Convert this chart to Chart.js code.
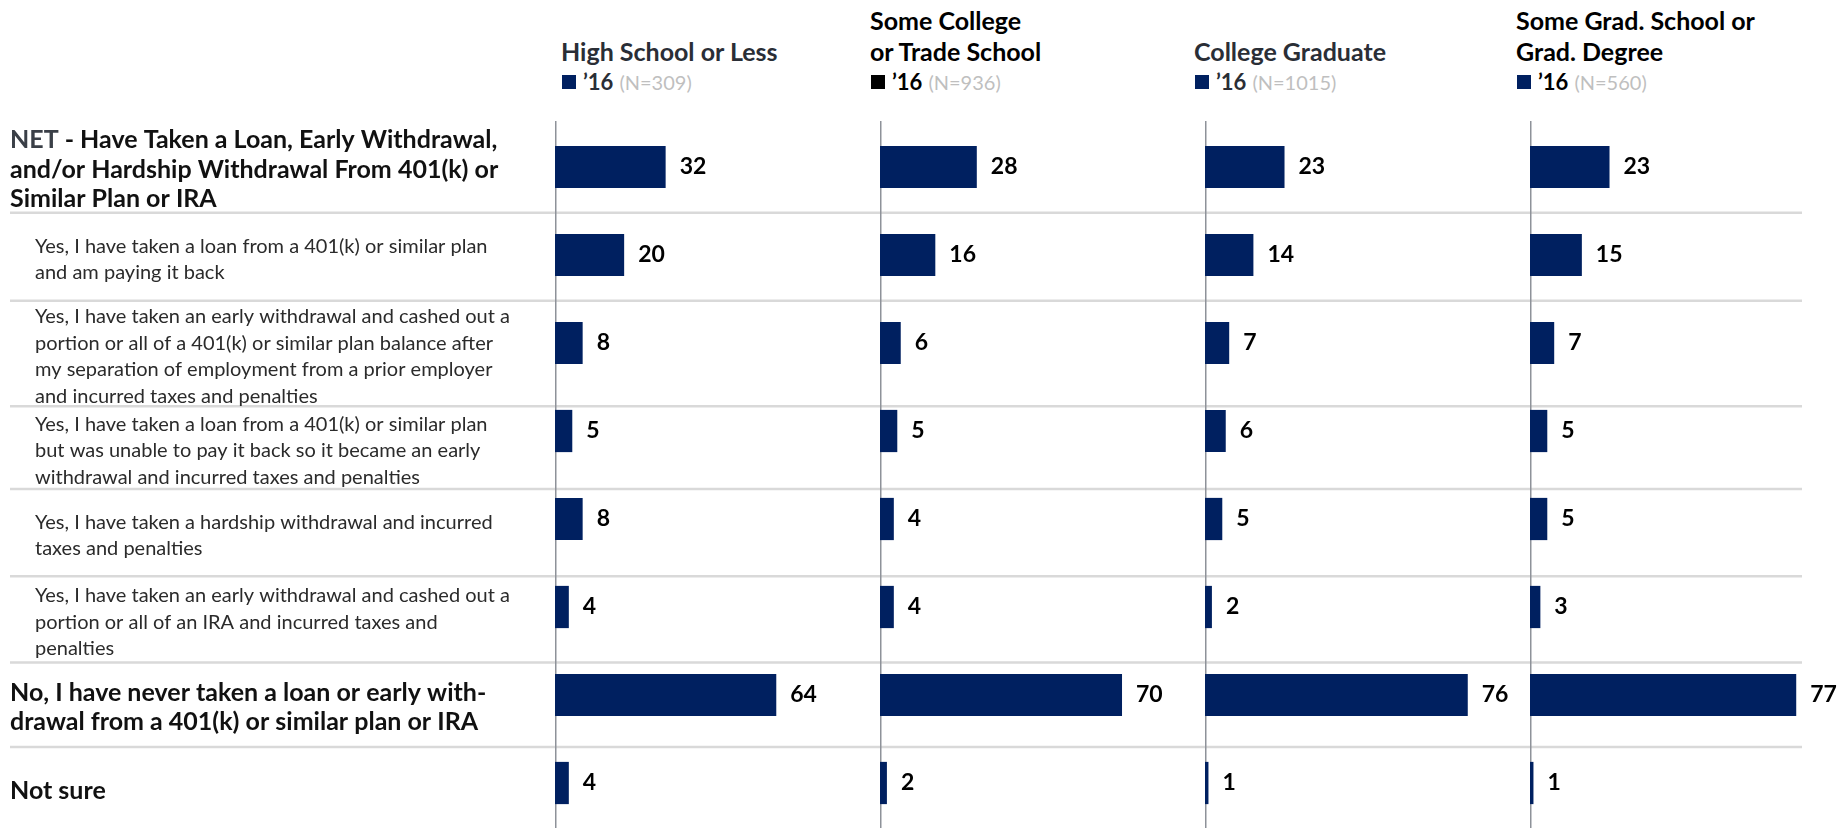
<!DOCTYPE html>
<html>
<head>
<meta charset="utf-8">
<script src="https://cdn.jsdelivr.net/npm/chart.js@4.4.1/dist/chart.umd.min.js"></script>
<style>
  body { margin: 0; background: #fff; overflow: hidden; font-family: Lato, 'Open Sans', sans-serif; }
  #pagina { position: relative; width: 1844px; height: 828px; overflow: hidden; }
  .painel { position: absolute; top: 0; }
  .cabecalho { position: absolute; bottom: 731px; font-weight: 700; font-size: 25px; white-space: nowrap; }
  .cabecalho .linha { line-height: 31px; }
  .cabecalho .legenda { line-height: 30px; display: flex; align-items: center; font-size: 22px; }
  .cabecalho .quadrado { display: inline-block; width: 14px; height: 14px; margin: 0 7px 0 1px; }
  .cabecalho .n { font-weight: 400; font-size: 20px; color: #bfbfbf; margin-left: 6px; }
</style>
</head>
<body>
<div id="pagina"></div>
<script>
//Rótulos das linhas
var categories = [
    ['NET - Have Taken a Loan, Early Withdrawal,', 'and/or Hardship Withdrawal From 401(k) or', 'Similar Plan or IRA'],
    ['Yes, I have taken a loan from a 401(k) or similar plan', 'and am paying it back'],
    ['Yes, I have taken an early withdrawal and cashed out a', 'portion or all of a 401(k) or similar plan balance after', 'my separation of employment from a prior employer', 'and incurred taxes and penalties'],
    ['Yes, I have taken a loan from a 401(k) or similar plan', 'but was unable to pay it back so it became an early', 'withdrawal and incurred taxes and penalties'],
    ['Yes, I have taken a hardship withdrawal and incurred', 'taxes and penalties'],
    ['Yes, I have taken an early withdrawal and cashed out a', 'portion or all of an IRA and incurred taxes and', 'penalties'],
    ['No, I have never taken a loan or early with-', 'drawal from a 401(k) or similar plan or IRA'],
    ['Not sure']
];
var boldRows = [true, false, false, false, false, false, true, true];

//Grupos de escolaridade
var groupTitles = [
    ['High School or Less'],
    ['Some College', 'or Trade School'],
    ['College Graduate'],
    ['Some Grad. School or', 'Grad. Degree']
];
var seriesLabel = '\u201916';
var sampleSizes = ['(N=309)', '(N=936)', '(N=1015)', '(N=560)'];

//Valores (%) por grupo
var highSchool = [32, 20, 8, 5, 8, 4, 64, 4];
var someCollege = [28, 16, 6, 5, 4, 4, 70, 2];
var collegeGrad = [23, 14, 7, 6, 5, 2, 76, 1];
var gradSchool = [23, 15, 7, 5, 5, 3, 77, 1];
var series = [highSchool, someCollege, collegeGrad, gradSchool];

//Estilos
var barColor = '#002060';
var swatchColors = ['#002060', '#000000', '#002060', '#002060'];
var titleColors = ['#2a2e36', '#000000', '#2a2e36', '#000000'];
var fontFamily = "Lato, 'Open Sans', sans-serif";

//Layout dos painéis
var labelWidth = 555;
var panelWidth = 325;
var panelLefts = [555, 880, 1205, 1530];
var headLefts = [561, 870, 1194, 1516];
var sepEnd = 1802;
//posição das linhas divisórias abaixo de cada linha (em alturas de linha)
var rowLines = [0.52, 0.52, 0.72, 0.66, 0.65, 0.63, 0.59];

var pagina = document.getElementById('pagina');

//Cabeçalhos dos grupos
groupTitles.forEach(function (linhas, p) {
    var div = document.createElement('div');
    div.className = 'cabecalho';
    div.style.left = headLefts[p] + 'px';
    div.style.color = titleColors[p];
    linhas.forEach(function (t) {
        var l = document.createElement('div');
        l.className = 'linha';
        l.textContent = t;
        div.appendChild(l);
    });
    var leg = document.createElement('div');
    leg.className = 'legenda';
    leg.innerHTML = '<span class="quadrado" style="background:' + swatchColors[p] + '"></span>' +
        '<span>' + seriesLabel + '</span><span class="n">' + sampleSizes[p] + '</span>';
    div.appendChild(leg);
    pagina.appendChild(div);
});

function separators(chart) {
    var y = chart.scales.y;
    var band = y.getPixelForValue(1) - y.getPixelForValue(0);
    return rowLines.map(function (f, i) { return y.getPixelForValue(i) + f * band; });
}

//Linhas divisórias, eixo vertical e valores
var gridPlugin = {
    id: 'grade',
    beforeDatasetsDraw: function (chart, args, opts) {
        var ctx = chart.ctx;
        var area = chart.chartArea;
        var seps = separators(chart);
        ctx.save();
        ctx.strokeStyle = '#d9d9d9';
        ctx.lineWidth = 2.5;
        seps.forEach(function (sy) {
            ctx.beginPath();
            ctx.moveTo(opts.from, sy);
            ctx.lineTo(opts.to, sy);
            ctx.stroke();
        });
        ctx.strokeStyle = '#8e9299';
        ctx.lineWidth = 1.5;
        ctx.beginPath();
        ctx.moveTo(area.left + 0.75, area.top - 2);
        ctx.lineTo(area.left + 0.75, chart.height);
        ctx.stroke();
        ctx.restore();
    },
    afterDatasetsDraw: function (chart) {
        var ctx = chart.ctx;
        var meta = chart.getDatasetMeta(0);
        var values = chart.data.datasets[0].data;
        ctx.save();
        ctx.fillStyle = '#000';
        ctx.font = 'bold 23px ' + fontFamily;
        ctx.textBaseline = 'middle';
        ctx.textAlign = 'left';
        meta.data.forEach(function (bar, i) {
            ctx.fillText(values[i], bar.x + 14, bar.y);
        });
        ctx.restore();
    }
};

//Rótulos das linhas, à esquerda do primeiro painel
var rowLabelPlugin = {
    id: 'rotulos',
    afterDraw: function (chart) {
        var ctx = chart.ctx;
        var area = chart.chartArea;
        var seps = separators(chart);
        ctx.save();
        ctx.textBaseline = 'middle';
        ctx.textAlign = 'left';
        categories.forEach(function (linhas, i) {
            var top = i === 0 ? area.top - 2 : seps[i - 1];
            var bottom = i === categories.length - 1 ? chart.height : seps[i];
            var bold = boldRows[i];
            var lh = bold ? 29.5 : 26.5;
            var x = bold ? 10 : 35;
            var y0 = (top + bottom) / 2 + 3 - (linhas.length - 1) * lh / 2;
            ctx.font = (bold ? 'bold 25px ' : '20px ') + fontFamily;
            linhas.forEach(function (t, k) {
                var y = y0 + k * lh;
                if (i === 0 && k === 0) {
                    ctx.fillStyle = '#3a3f47';
                    ctx.fillText('NET', x, y);
                    var w = ctx.measureText('NET').width;
                    ctx.fillStyle = '#111';
                    ctx.fillText(t.slice(3), x + w, y);
                } else {
                    ctx.fillStyle = bold ? '#111' : '#2b2b2b';
                    ctx.fillText(t, x, y);
                }
            });
        });
        ctx.restore();
    }
};

//Um gráfico de barras por grupo
series.forEach(function (values, p) {
    var first = p === 0;
    var canvas = document.createElement('canvas');
    var w = panelWidth + (first ? labelWidth : 0);
    var left = first ? 0 : panelLefts[p];
    canvas.width = w;
    canvas.height = 828;
    canvas.className = 'painel';
    canvas.style.left = left + 'px';
    canvas.style.width = w + 'px';
    canvas.style.height = '828px';
    pagina.appendChild(canvas);

    new Chart(canvas, {
        type: 'bar',
        data: {
            labels: categories,
            datasets: [{
                label: seriesLabel,
                data: values,
                backgroundColor: barColor,
                borderWidth: 0,
                barPercentage: 0.48,
                categoryPercentage: 1
            }]
        },
        options: {
            indexAxis: 'y',
            responsive: false,
            animation: false,
            layout: { padding: { left: first ? labelWidth : 0, top: 123, bottom: 1, right: 0 } },
            scales: {
                x: { display: false, min: 0, max: 94 },
                y: { display: false }
            },
            plugins: {
                legend: { display: false },
                tooltip: { enabled: false },
                grade: { from: first ? 10 : 0, to: Math.min(w, sepEnd - left) }
            }
        },
        plugins: first ? [gridPlugin, rowLabelPlugin] : [gridPlugin]
    });
});
</script>
</body>
</html>
